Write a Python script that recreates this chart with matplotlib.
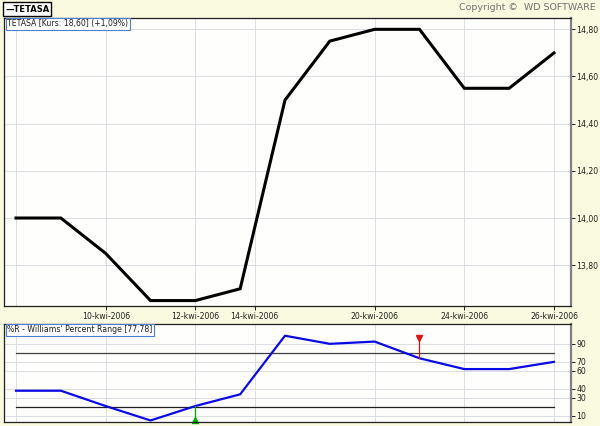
import matplotlib
matplotlib.use('Agg')
import matplotlib.pyplot as plt
from matplotlib.ticker import FuncFormatter

# data (13 sessions, 6-26 kwi 2006)
idx = list(range(13))
kurs = [14.00, 14.00, 13.85, 13.65, 13.65, 13.70, 14.50, 14.75, 14.80, 14.80, 14.55, 14.55, 14.70]
wpr = [38, 38, 21, 5, 21, 34, 99, 90, 92.5, 74, 62, 62, 70]
tick_pos = [2, 4, 5.32, 8, 10, 12]
tick_lab = ['10-kwi-2006', '12-kwi-2006', '14-kwi-2006', '20-kwi-2006', '24-kwi-2006', '26-kwi-2006']
price_ticks = [13.80, 14.00, 14.20, 14.40, 14.60, 14.80]
wpr_ticks = [10, 30, 40, 60, 70, 90]
buy_at = 4
sell_at = 9

bg = '#fafae1'
axbg = '#fefefc'
gridc = '#dcdce4'
fs = 5.6

fig = plt.figure(figsize=(6, 4.26), dpi=100, facecolor=bg)

def style(ax):
    ax.set_facecolor(axbg)
    ax.yaxis.tick_right()
    for s in ['left', 'top', 'bottom']:
        ax.spines[s].set_color('#202020')
        ax.spines[s].set_linewidth(0.9)
    ax.spines['right'].set_color('#808080')
    ax.spines['right'].set_linewidth(1.6)
    ax.tick_params(axis='y', length=3, width=0.7, pad=1, labelsize=fs, colors='#202020')
    ax.set_xlim(-0.268, 12.38)
    for t in tick_pos + [0]:
        ax.axvline(t, color=gridc, lw=0.7, zorder=0)

fmt = FuncFormatter(lambda v, p: ('%.2f' % v).replace('.', ','))

ax1 = fig.add_axes([4/600, 1 - 306/426, 567/600, 288/426])
style(ax1)
ax1.plot(idx, kurs, color='black', lw=2.2, solid_joinstyle='miter')
ax1.set_ylim(13.627, 14.848)
ax1.set_yticks(price_ticks)
ax1.yaxis.set_major_formatter(fmt)
for v in price_ticks:
    ax1.axhline(v, color=gridc, lw=0.7, zorder=0)
ax1.set_xticks(tick_pos)
ax1.set_xticklabels(tick_lab, fontsize=fs)
ax1.tick_params(axis='x', length=3, width=0.7, pad=1, colors='#202020')
ax1.text(0.006, 0.995, 'TETASA [Kurs: 18,60] (+1,09%)', transform=ax1.transAxes,
         fontsize=fs, va='top', ha='left', color='#202020',
         bbox=dict(boxstyle='square,pad=0.2', fc='white', ec='#4a7fd4', lw=0.8))

ax2 = fig.add_axes([4/600, 4/426, 567/600, 98/426])
style(ax2)
for v in wpr_ticks:
    ax2.axhline(v, color=gridc, lw=0.7, zorder=0)
ax2.plot([0, 12], [80, 80], color='#404040', lw=0.9)
ax2.plot([0, 12], [20, 20], color='#202020', lw=0.9)
ax2.plot(idx, wpr, color='#0a0ae6', lw=1.6)
ax2.set_ylim(3.3, 112)
ax2.set_yticks(wpr_ticks)
ax2.set_xticks([])
# signals
ax2.plot([buy_at, buy_at], [wpr[buy_at], 5], color='#00b000', lw=0.9)
ax2.plot(buy_at, 6, marker='^', color='#00b000', ms=5, clip_on=False)
ax2.plot([sell_at, sell_at], [wpr[sell_at], 94], color='#e01010', lw=0.9)
ax2.plot(sell_at, 96, marker='v', color='#e01010', ms=5)
ax2.text(0.006, 0.985, "%R - Williams' Percent Range [77,78]", transform=ax2.transAxes,
         fontsize=fs, va='top', ha='left', color='#202020',
         bbox=dict(boxstyle='square,pad=0.2', fc='white', ec='#4a7fd4', lw=0.8))

fig.text(5/600, 1 - 9/426, '\u2014TETASA', fontsize=6, fontweight='bold', va='center', ha='left',
         bbox=dict(boxstyle='square,pad=0.25', fc='white', ec='black', lw=1.0))
fig.text(596/600, 1 - 7/426, 'Copyright \u00a9  WD SOFTWARE', fontsize=6.8, color='#707070',
         va='center', ha='right')

fig.savefig('out.png', dpi=100, facecolor=bg)
